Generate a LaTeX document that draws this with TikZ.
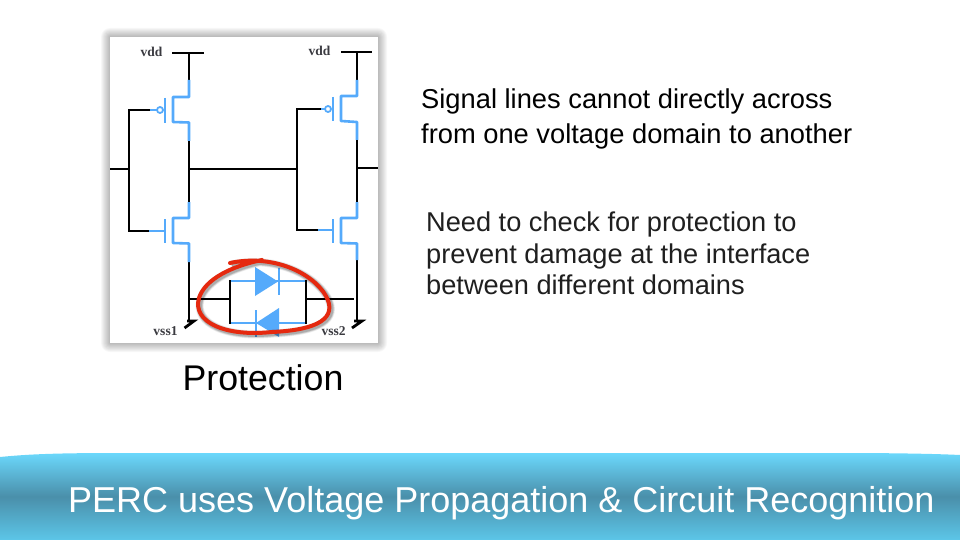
\documentclass[tikz,border=0pt]{standalone}
\usepackage{fontspec}
\setmainfont{Liberation Sans}
\newfontfamily\lblfont{Liberation Serif}
\definecolor{fetblue}{HTML}{55AAFB}
\definecolor{ringred}{HTML}{E5290F}
\definecolor{labelink}{HTML}{3A3A40}
\definecolor{bannerlow}{HTML}{5CC6E8}
\definecolor{bannermid}{HTML}{4A8FAA}
\definecolor{bannerhigh}{HTML}{6BD8FC}
\pgfdeclareverticalshading{bannershade}{100bp}{
  color(0bp)=(bannerlow); color(25bp)=(bannerlow);
  color(50bp)=(bannermid); color(75bp)=(bannerhigh); color(100bp)=(bannerhigh)}
\tikzset{
  x=1pt,y=-1pt,
  wire/.style={line width=2.8pt,black,line cap=butt,line join=miter},
  fet/.style={line width=2.6pt,fetblue,line join=round},
  lbl/.style={font=\lblfont\bfseries\fontsize{13.5}{13.5}\selectfont,text=labelink,inner sep=0pt},
  bodytext/.style={font=\fontsize{27.3}{35.2}\selectfont,align=left,anchor=north west,inner sep=0pt,text=black},
  bodytextb/.style={font=\fontsize{27.2}{31.5}\selectfont,align=left,anchor=north west,inner sep=0pt,text=black!88},
  caption/.style={font=\fontsize{35.7}{38}\selectfont,inner sep=0pt,text=black},
  bannertext/.style={font=\fontsize{36}{38}\selectfont,inner sep=0pt,text=white,anchor=base west},
  shadowlayer/.style={fill=black,fill opacity=0.03,draw=none}
}
\begin{document}
\begin{tikzpicture}
\useasboundingbox (0,0) rectangle (960,540);
\fill[white] (0,0) rectangle (960,540);

% panel with soft shadow
\foreach \d in {9,8,7,6,5,4,3,2,1}
  \fill[shadowlayer,rounded corners=\d pt] (110-\d,37-\d) rectangle (378+\d,343+\d);
\node[draw=none,fill=white,inner sep=0pt,minimum width=268pt,minimum height=306pt] (panel) at (244,190) {};

% rails
\coordinate (vddLa) at (172,53); \coordinate (vddLb) at (204,53); \coordinate (vddLc) at (189,53);
\coordinate (vddRa) at (341,52); \coordinate (vddRb) at (372,52); \coordinate (vddRc) at (357,52);
\draw[wire] (vddLa) -- (vddLb);
\draw[wire] (vddRa) -- (vddRb);
\node[lbl] (vddL) at (151.5,52) {vdd};
\node[lbl] (vddR) at (319.5,51) {vdd};
\node[lbl] (vssL) at (165.5,331) {vss1};
\node[lbl] (vssR) at (333.5,331) {vss2};

% left column, black parts
\draw[wire] (vddLc) -- (189,80);
\draw[wire] (189,141) -- (189,202);
\draw[wire] (189,262) -- (189,321);
% right column, black parts
\draw[wire] (vddRc) -- (357,80);
\draw[wire] (357,140) -- (357,202);
\draw[wire] (357,260) -- (357,321);
% ground ticks
\draw[wire,line join=miter] (187,321) -- (194,321) -- (184.5,328);
\draw[wire,line join=miter] (354,321) -- (362,321) -- (352,328);

% gate feeds and crossing lines
\draw[wire] (150,110) -- (129,110) -- (129,231) -- (149,231);
\draw[wire] (321,109) -- (297,109) -- (297,230) -- (318,230);
\draw[wire] (110,169) -- (129,169);
\draw[wire] (189,169) -- (297,169);
\draw[wire] (357,168) -- (378,168);

% PMOS left
\draw[fet] (189,80) -- (189,97) -- (173,97) -- (173,122) -- (189,122.5) -- (189,141);
\draw[fet] (165,98) -- (165,123);
\draw[fet] (150,110) -- (157,110);
\draw[fet,line width=1.8pt] (160,110) circle (3);
% PMOS right
\draw[fet] (357,80) -- (357,96) -- (341,96) -- (341,121) -- (357,122) -- (357,140);
\draw[fet] (333,97) -- (333,121);
\draw[fet] (321,109) -- (325,109);
\draw[fet,line width=1.8pt] (328,109) circle (3);
% NMOS left
\draw[fet] (189,202) -- (189,218) -- (173,218) -- (173,243) -- (189,243.5) -- (189,262);
\draw[fet] (165,219) -- (165,243);
\draw[fet] (149,231) -- (165,231);
% NMOS right
\draw[fet] (357,202) -- (357,218) -- (341,218) -- (341,243) -- (357,243.5) -- (357,260);
\draw[fet] (333,219) -- (333,243);
\draw[fet] (318,230) -- (333,230);

% protection diodes
\draw[wire] (189,299) -- (230,299);
\draw[wire] (306,299) -- (354,299);
\draw[fet] (230,281) -- (306,281);
\draw[fet] (230,323) -- (306,323);
\fill[fetblue] (255,267) -- (278,281.5) -- (255,296) -- cycle;
\draw[fet] (279,268) -- (279,295);
\fill[fetblue] (279,308) -- (256,323) -- (279,337) -- cycle;
\draw[fet] (256,310) -- (256,337);
\draw[wire] (230,280) -- (230,324);
\draw[wire] (306,280) -- (306,324);

% red ring, with shadow
\foreach \o/\w in {0.08/8,0.12/6.5,0.16/5}
  \draw[black,opacity=\o,line width=\w pt,shift={(1.5,1.5)}]
    (230,263) .. controls (272,254) and (312,272) .. (326,296)
    .. controls (338,318) and (318,330) .. (272,332)
    .. controls (225,337) and (192,322) .. (199,298)
    .. controls (205,279) and (232,266) .. (262,260);
\draw[ringred,line width=4pt,line cap=round]
    (230,263) .. controls (272,254) and (312,272) .. (326,296)
    .. controls (338,318) and (318,330) .. (272,332)
    .. controls (225,337) and (192,322) .. (199,298)
    .. controls (205,279) and (232,266) .. (262,260);

% texts
\node[caption] (cap) at (263,378) {Protection};
\node[bodytext] (t1) at (421,88.5) {Signal lines cannot directly across\\from one voltage domain to another};
\node[bodytextb] (t2) at (426,212) {Need to check for protection to\\prevent damage at the interface\\between different domains};

% banner
\shade[shading=bannershade]
  (0,457) .. controls (30,454) and (60,453) .. (120,453) -- (840,453)
  .. controls (900,453) and (940,454) .. (960,455) -- (960,540) -- (0,540) -- cycle;
\node[bannertext] (bt) at (68,512) {PERC uses Voltage Propagation \& Circuit Recognition};
\end{tikzpicture}
\end{document}
